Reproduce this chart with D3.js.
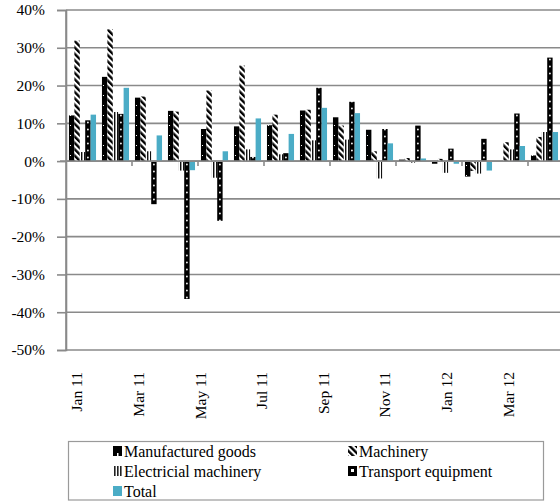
<!DOCTYPE html>
<html><head><meta charset="utf-8">
<script src="https://cdn.jsdelivr.net/npm/d3@7"></script>
<style>body{margin:0;background:#fff}svg{display:block}</style>
</head><body><svg id="c" width="560" height="502"></svg>
<script>
const months = ["Jan 11","Feb 11","Mar 11","Apr 11","May 11","Jun 11","Jul 11","Aug 11","Sep 11","Oct 11","Nov 11","Dec 11","Jan 12","Feb 12","Mar 12"];
const seriesNames = ["Manufactured goods","Machinery","Electricial machinery","Transport equipment","Total"];
const manufactured = [12.1, 22.3, 16.8, 13.3, 8.5, 9.2, 9.5, 13.4, 11.6, 8.3, 0.4, -0.7, -4.1, 0.0, 1.5];
const machinery    = [31.9, 34.9, 17.1, 13.1, 18.7, 25.3, 12.3, 13.6, 9.4, 2.6, 0.8, 0.6, -2.6, 5.0, 6.4];
const electrical   = [2.4, 13.0, 2.6, -2.5, -4.4, 3.1, 1.8, 5.5, 5.7, -4.6, -0.4, -3.1, -3.3, 3.1, 7.7];
const transport    = [10.8, 12.5, -11.4, -36.5, -15.8, 1.1, 2.1, 19.4, 15.7, 8.5, 9.4, 3.3, 5.9, 12.6, 27.4];
const total        = [12.3, 19.4, 6.8, -2.4, 2.6, 11.3, 7.2, 14.1, 12.7, 4.7, 0.7, -0.7, -2.5, 4.0, 7.7];
const yTicks = [-50,-40,-30,-20,-10,0,10,20,30,40];
const labelMonths = months.filter((m,i)=>i%2===0);

const values = [manufactured, machinery, electrical, transport, total];
const fills = ["url(#pManuf)","url(#pMach)","url(#pElec)","url(#pTrans)","#4BACC6"];
const FONT = "'Liberation Serif', 'Times New Roman', serif";

const svg = d3.select("#c");
const grid = "#8a8a8a";
const left = 66, step = 33;
const y = d3.scaleLinear().domain([-50,40]).range([350,10]);
const x0 = d3.scaleBand().domain(months).range([left, left+step*months.length]).paddingInner(0.18).paddingOuter(0.09);
const x1 = d3.scaleBand().domain(seriesNames).range([0, x0.bandwidth()]);
const xl = d3.scaleBand().domain(months).range([61.6, 523.6]);

const defs = svg.append("defs");
const pm = defs.append("pattern").attr("id","pManuf").attr("patternUnits","userSpaceOnUse")
  .attr("x", left).attr("y",0).attr("width", step).attr("height", 10);
pm.append("rect").attr("width",step).attr("height",10).attr("fill","#000");
pm.append("rect").attr("x", x0.paddingOuter()*step + 1).attr("y",5).attr("width",1).attr("height",1).attr("fill","#fff");

const pt = defs.append("pattern").attr("id","pTrans").attr("patternUnits","userSpaceOnUse")
  .attr("x", left).attr("y",0).attr("width", step).attr("height", 7);
pt.append("rect").attr("width",step).attr("height",7).attr("fill","#000");
pt.append("circle").attr("cx", x0.paddingOuter()*step + x1("Transport equipment") + x1.bandwidth()/2).attr("cy",3.5).attr("r",0.9).attr("fill","#fff");

const pmc = defs.append("pattern").attr("id","pMach").attr("patternUnits","userSpaceOnUse")
  .attr("width",4.5).attr("height",10).attr("patternTransform","rotate(-45)");
pmc.append("rect").attr("width",4.5).attr("height",10).attr("fill","#fff");
pmc.append("rect").attr("width",2.4).attr("height",10).attr("fill","#000");

const pe = defs.append("pattern").attr("id","pElec").attr("patternUnits","userSpaceOnUse")
  .attr("x", left).attr("width",3).attr("height",4);
pe.append("rect").attr("width",3).attr("height",4).attr("fill","#fff");
pe.append("rect").attr("width",1).attr("height",4).attr("fill","#111");
pe.append("rect").attr("x",1).attr("width",1).attr("height",4).attr("fill","#999");

svg.append("g").selectAll("line").data(yTicks).join("line")
  .attr("x1",left).attr("x2",560).attr("y1",d=>y(d)).attr("y2",d=>y(d))
  .attr("stroke",grid).attr("stroke-width",1.6);

const ya = svg.append("g").attr("transform",`translate(${left},0)`)
  .call(d3.axisLeft(y).tickValues(yTicks).tickFormat(d=>d+"%").tickSize(9).tickPadding(12));
ya.attr("font-family", FONT).attr("font-size", 15.5);
ya.select(".domain").attr("stroke",grid).attr("stroke-width",1.6);
ya.selectAll(".tick line").attr("stroke",grid).attr("stroke-width",1.6);
ya.selectAll("text").style("font-family",FONT).attr("fill","#000");

const g = svg.append("g");
seriesNames.forEach((s,si)=>{
  g.append("g").selectAll("rect").data(months.map((m,i)=>({m, v: values[si][i]}))).join("rect")
    .attr("x", d=>x0(d.m)+x1(s))
    .attr("width", x1.bandwidth())
    .attr("y", d=>y(Math.max(0,d.v)))
    .attr("height", d=>Math.abs(y(d.v)-y(0)))
    .attr("fill", fills[si]);
});

svg.append("line").attr("x1",left-6).attr("x2",560).attr("y1",y(0)).attr("y2",y(0))
  .attr("stroke",grid).attr("stroke-width",1.6);
const boundaries = months.map((m,i)=>i).filter(i=>i>0 && i%2===0);
svg.append("g").selectAll("line").data(boundaries).join("line")
  .attr("x1",i=>x0.range()[0]+i*x0.step()).attr("x2",i=>x0.range()[0]+i*x0.step())
  .attr("y1",y(0)).attr("y2",y(0)+5).attr("stroke",grid).attr("stroke-width",1.6);
svg.append("line").attr("x1",left).attr("x2",left).attr("y1",y(40)).attr("y2",y(-50))
  .attr("stroke",grid).attr("stroke-width",1.6);

svg.append("g").selectAll("text").data(labelMonths).join("text")
  .attr("transform", d=>`translate(${xl(d)+xl.bandwidth()/2},372) rotate(-90)`)
  .attr("dy","0.35em").attr("text-anchor","end").attr("font-size",15.5).style("font-family",FONT).text(d=>d);

svg.append("rect").attr("x",68.5).attr("y",441.5).attr("width",475).attr("height",58.5)
  .attr("fill","#fff").attr("stroke","#9a9a9a").attr("stroke-width",1.2);
const legPos = [[113,451],[348,451],[113,471],[348,471],[113,491]];
const lg = svg.append("g");
seriesNames.forEach((s,i)=>{
  const [lx,ly] = legPos[i];
  const sw = lg.append("g").attr("transform",`translate(${lx},${ly-5})`);
  if(i===0){
    sw.append("rect").attr("width",9).attr("height",10).attr("fill","#000");
    sw.append("rect").attr("x",4).attr("y",7).attr("width",1.5).attr("height",3).attr("fill","#fff");
  } else if(i===1){
    sw.append("rect").attr("width",9).attr("height",10).attr("fill","url(#pMach)");
  } else if(i===2){
    sw.append("rect").attr("width",9).attr("height",10).attr("fill","#fff");
    [1,4,7].forEach(xx=>sw.append("rect").attr("x",xx).attr("width",1.6).attr("height",10).attr("fill","#222"));
  } else if(i===3){
    sw.append("rect").attr("width",9).attr("height",10).attr("fill","#000");
    sw.append("rect").attr("x",3).attr("y",3).attr("width",3).attr("height",3).attr("fill","#fff");
  } else {
    sw.append("rect").attr("width",9).attr("height",10).attr("fill","#4BACC6");
  }
  lg.append("text").attr("x",lx+11).attr("y",ly).attr("dy","0.35em").attr("font-size",16).style("font-family",FONT).text(s);
});
</script></body></html>
